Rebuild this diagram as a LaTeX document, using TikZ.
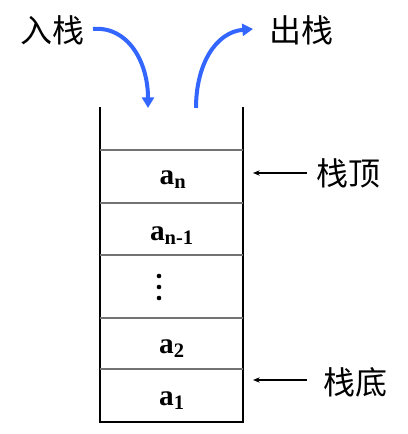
\documentclass[tikz,border=0pt]{standalone}
\usepackage{fontspec}
\setmainfont{Liberation Serif}
\newfontfamily\cjk{Noto Sans CJK SC}
\usetikzlibrary{arrows.meta}

\begin{document}
\begin{tikzpicture}[x=0.75pt, y=0.75pt,
  wall/.style = {line width=1.8pt, line cap=rect, line join=miter},
  sep/.style = {line width=1pt, draw=black!55},
  elem/.style = {font=\fontsize{22}{26}\selectfont\bfseries, inner sep=0pt},
  label/.style = {font=\fontsize{24}{28}\selectfont\cjk, inner sep=0pt},
  flow/.style = {line width=3pt, draw={rgb,255:red,51;green,102;blue,255},
                 -{Triangle[length=8pt, width=9pt]}},
  pointer/.style = {line width=0.8pt, -{Stealth[length=5pt, width=4pt]}},
  ]
  \useasboundingbox (0,0) rectangle (407,434);

  % stack frame
  \draw[wall] (100,326) -- (100,12) -- (243,12) -- (243,326);
  \foreach \y in {284, 231, 179, 116, 65}
    \draw[sep] (100,\y) -- (243,\y);

  % elements
  \node[elem] (an)  at (173,254) {a\textsubscript{n}};
  \node[elem] (an1) at (172,198) {a\textsubscript{n-1}};
  \foreach \y in {158, 147, 136}
    \fill (159,\y) circle (2.3);
  \node[elem] (a2)  at (172,85) {a\textsubscript{2}};
  \node[elem] (a1)  at (172,33) {a\textsubscript{1}};

  % push and pop
  \node[label] (push) at (52,404) {入栈};
  \node[label] (pop)  at (301,404) {出栈};
  \coordinate (pushout) at (93,405);
  \coordinate (pushin)  at (148,326);
  \coordinate (popout)  at (196,326);
  \coordinate (popin)   at (253,405);
  \draw[flow] (pushout) .. controls (128,408) and (148,372) .. (pushin);
  \draw[flow] (popout) .. controls (196,370) and (216,402) .. (popin);

  % top and bottom
  \node[label] (top)    at (348,261) {栈顶};
  \node[label] (bottom) at (355,52) {栈底};
  \coordinate (toparr) at (253,261);
  \coordinate (botarr) at (253,54);
  \draw[pointer] (307,261) -- (toparr);
  \draw[pointer] (307,54) -- (botarr);
\end{tikzpicture}
\end{document}
